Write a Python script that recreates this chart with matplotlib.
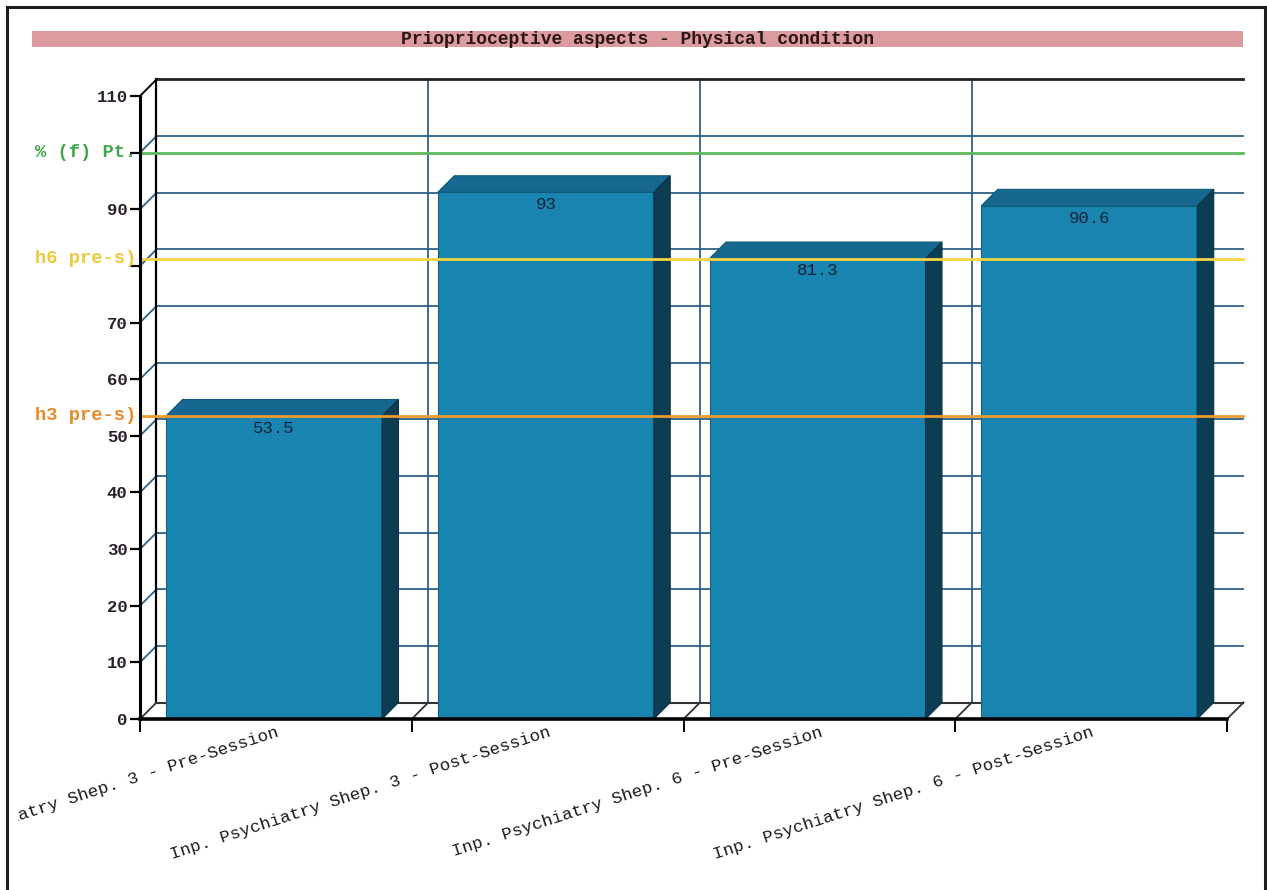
import matplotlib
matplotlib.use("Agg")
import matplotlib.pyplot as plt
from matplotlib.patches import Polygon, Rectangle
from matplotlib.lines import Line2D

# ---------------- data ----------------
title = "Prioprioceptive aspects - Physical condition"
categories = [
    "Inp. Psychiatry Shep. 3 - Pre-Session",
    "Inp. Psychiatry Shep. 3 - Post-Session",
    "Inp. Psychiatry Shep. 6 - Pre-Session",
    "Inp. Psychiatry Shep. 6 - Post-Session",
]
values = [53.5, 93, 81.3, 90.6]
value_labels = ["53.5", "93", "81.3", "90.6"]
ref_names = ["% (f) Pt.", "h6 pre-s)", "h3 pre-s)"]
ref_values = [100, 81.3, 53.5]
ref_colors = ["#5cb85c", "#f5d442", "#ec9a2e"]
ref_text_colors = ["#3fa84a", "#f0c93a", "#e8892a"]
ytick_values = [0, 10, 20, 30, 40, 50, 60, 70, 80, 90, 100, 110]
ytick_labels = ["0", "10", "20", "30", "40", "50", "60", "70", "", "90", "", "110"]

# ---------------- style ----------------
W, H = 1267, 890
FONT = "Liberation Mono"
front_c = "#1a84b1"
top_c = "#166890"
side_c = "#0c3d53"
grid_c = "#2e6189"
dx, dy = 0.0607, 2.91          # 3D depth (category units, value units)
bar_x0, bar_x1 = 0.0957, 0.8905
xmax, ymax = 4.08, 113.5

fig = plt.figure(figsize=(W / 100, H / 100), dpi=100)
fig.patch.set_facecolor("white")

# axes placement (pixels -> figure fraction)
px_per_cat = 271.75
px_per_unit = 5.664
left_px, base_px = 140, 719
ax = fig.add_axes([left_px / W, (H - base_px) / H,
                   xmax * px_per_cat / W, ymax * px_per_unit / H])
ax.set_xlim(0, xmax)
ax.set_ylim(0, ymax)
for s in ax.spines.values():
    s.set_visible(False)
ax.set_facecolor("none")

n = len(categories)

# back wall horizontal gridlines + left wall connectors
for v in ytick_values[1:-1]:
    ax.add_line(Line2D([dx, n + dx], [v + dy, v + dy], color=grid_c, lw=1.3, zorder=1))
    ax.add_line(Line2D([0, dx], [v, v + dy], color=grid_c, lw=1.3, zorder=1))
# back wall vertical gridlines
for i in range(1, n):
    ax.add_line(Line2D([i + dx, i + dx], [dy, ytick_values[-1] + dy], color=grid_c, lw=1.3, zorder=1))
# back wall frame
top = ytick_values[-1]
ax.add_line(Line2D([dx, dx], [dy, top + dy], color="black", lw=1.6, zorder=2))
ax.add_line(Line2D([dx, n + dx], [top + dy, top + dy], color="#222222", lw=2.0, zorder=2))
ax.add_line(Line2D([0, dx], [top, top + dy], color="black", lw=1.4, zorder=2))
# floor
ax.add_line(Line2D([dx, n + dx], [dy, dy], color="#333333", lw=1.5, zorder=2))
for i in range(n + 1):
    ax.add_line(Line2D([i, i + dx], [0, dy], color="#333333", lw=1.3, zorder=2))
ax.add_line(Line2D([0, n], [0, 0], color="black", lw=2.6, zorder=6, clip_on=False))
# front y axis
ax.add_line(Line2D([0, 0], [0, top], color="black", lw=2.2, zorder=6, clip_on=False))

# bars
for i, v in enumerate(values):
    x0, x1 = i + bar_x0, i + bar_x1
    ax.add_patch(Rectangle((x0, 0), x1 - x0, v, facecolor=front_c,
                           edgecolor="#125f80", lw=0.8, zorder=3))
    ax.add_patch(Polygon([(x0, v), (x1, v), (x1 + dx, v + dy), (x0 + dx, v + dy)],
                         closed=True, facecolor=top_c, edgecolor="#0f5a7a", lw=0.8, zorder=3))
    ax.add_patch(Polygon([(x1, 0), (x1 + dx, dy), (x1 + dx, v + dy), (x1, v)],
                         closed=True, facecolor=side_c, edgecolor="#0a3346", lw=0.8, zorder=3))
    ax.text((x0 + x1) / 2, v - 2.2, value_labels[i], ha="center", va="center",
            fontsize=12.5, family=FONT, color="#0d2236", zorder=8)

# reference lines
for name, rv, lc, tc in zip(ref_names, ref_values, ref_colors, ref_text_colors):
    ax.add_line(Line2D([0, n + dx], [rv, rv], color=lc, lw=2.0, zorder=5))
    ax.text(-0.015, rv, name, ha="right", va="center", fontsize=13.5, family=FONT,
            weight="bold", color=tc, zorder=7, clip_on=False)

# y ticks
ax.set_yticks(ytick_values)
ax.set_yticklabels(ytick_labels, fontsize=12.5, family=FONT, weight="bold", color="#2a1f2a")
ax.tick_params(axis="y", length=7, width=1.6, color="black", pad=2)

# x ticks: marks at category edges, labels at category centers
ax.set_xticks([i for i in range(n + 1)], minor=True)
ax.tick_params(axis="x", which="minor", length=9, width=1.4, color="black")
ax.set_xticks([i + 0.5 for i in range(n)])
ax.set_xticklabels(categories, rotation=18, ha="right", rotation_mode="anchor",
                   fontsize=12.6, family=FONT, color="#1a1a1a")
ax.tick_params(axis="x", which="major", length=0, pad=4)

# title bar
fig.patches.append(Rectangle((32 / W, 1 - 47 / H), (1243 - 32) / W, 16 / H,
                             transform=fig.transFigure, facecolor="#dc9c9f",
                             edgecolor="none", zorder=1))
fig.text((32 + 1243) / 2 / W, 1 - 39 / H, title, ha="center", va="center",
         fontsize=13, family=FONT, weight="bold", color="#2a1414", zorder=2)

# crop at the left edge of the embedded chart, and outer frame
fig.patches.append(Rectangle((0, 0), 18 / W, 1, transform=fig.transFigure,
                             facecolor="white", edgecolor="none", zorder=10))
for xs, ys in [([7, 7], [7, 890]), ([7, 1265], [7, 7]), ([1265, 1265], [7, 890])]:
    fig.lines.append(Line2D([x / W for x in xs], [1 - y / H for y in ys],
                            transform=fig.transFigure, color="#1e1e1e", lw=2.2, zorder=11))

fig.savefig("out.png", dpi=100, facecolor="white")
